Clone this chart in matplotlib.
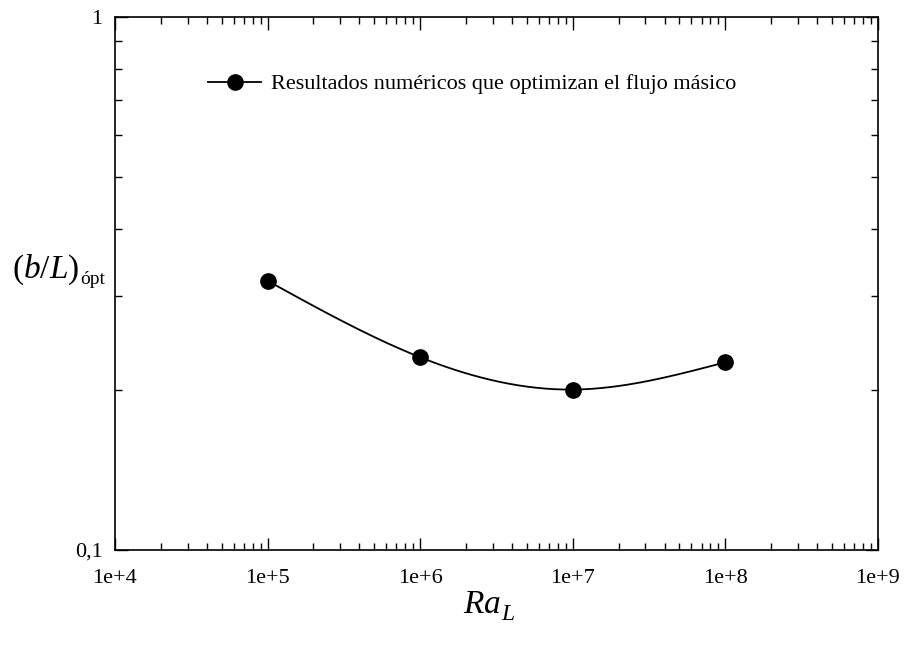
import numpy as np
import matplotlib
matplotlib.use("Agg")
import matplotlib.pyplot as plt
from matplotlib.ticker import LogLocator, FixedLocator, FixedFormatter, NullFormatter

plt.rcParams['font.family'] = ['Liberation Serif', 'DejaVu Serif']
plt.rcParams['mathtext.fontset'] = 'custom'
plt.rcParams['mathtext.rm'] = 'Liberation Serif'
plt.rcParams['mathtext.it'] = 'Liberation Serif:italic'

# resultados numéricos
ra_l = [1e5, 1e6, 1e7, 1e8]
b_l_opt = [0.32, 0.23, 0.20, 0.225]

x_ticks = [1e4, 1e5, 1e6, 1e7, 1e8, 1e9]
x_tick_labels = ['1e+4', '1e+5', '1e+6', '1e+7', '1e+8', '1e+9']
y_ticks = [0.1, 1]
y_tick_labels = ['0,1', '1']
legend_label = 'Resultados numéricos que optimizan el flujo másico'


def natural_spline(x, y, n=200):
    # spline cúbico natural (sin scipy)
    x = np.asarray(x, float)
    y = np.asarray(y, float)
    k = len(x)
    h = np.diff(x)
    A = np.zeros((k, k))
    r = np.zeros(k)
    A[0, 0] = A[-1, -1] = 1
    for i in range(1, k - 1):
        A[i, i - 1] = h[i - 1]
        A[i, i] = 2 * (h[i - 1] + h[i])
        A[i, i + 1] = h[i]
        r[i] = 6 * ((y[i + 1] - y[i]) / h[i] - (y[i] - y[i - 1]) / h[i - 1])
    m = np.linalg.solve(A, r)
    xs = np.linspace(x[0], x[-1], n)
    idx = np.clip(np.searchsorted(x, xs) - 1, 0, k - 2)
    t0 = x[idx + 1] - xs
    t1 = xs - x[idx]
    hi = h[idx]
    ys = (m[idx] * t0**3 + m[idx + 1] * t1**3) / (6 * hi) \
        + (y[idx] / hi - m[idx] * hi / 6) * t0 \
        + (y[idx + 1] / hi - m[idx + 1] * hi / 6) * t1
    return xs, ys


def label_with_sub(fig, x, y, main, sub, size, sub_size, drop, ha='left'):
    # texto principal + subíndice colocado a mano
    r = fig.canvas.get_renderer()
    t = fig.text(x, y, main, fontsize=size, ha='left', va='baseline')
    bb = t.get_window_extent(r)
    s = fig.text(0, 0, sub, fontsize=sub_size, ha='left', va='baseline')
    sb = s.get_window_extent(r)
    W, H = fig.bbox.width, fig.bbox.height
    if ha == 'center':
        total = bb.width + sb.width
        x0 = x * W - total / 2
        t.set_x(x0 / W)
        bb = t.get_window_extent(r)
    s.set_position((bb.x1 / W + 0.001, y - drop / H))
    return t, s


fig = plt.figure(figsize=(9.05, 6.49), dpi=100)
ax = fig.add_axes([0.127, 0.1525, 0.843, 0.8213])

lx, ly = natural_spline(np.log10(ra_l), np.log10(b_l_opt))
ax.plot(10**lx, 10**ly, color='black', lw=1.3, zorder=2)
ax.plot(ra_l, b_l_opt, 'o', color='black', ms=11, zorder=3)

ax.set_xscale('log')
ax.set_yscale('log')
ax.set_xlim(1e4, 1e9)
ax.set_ylim(0.1, 1)

ax.xaxis.set_major_locator(FixedLocator(x_ticks))
ax.xaxis.set_major_formatter(FixedFormatter(x_tick_labels))
ax.xaxis.set_minor_locator(LogLocator(base=10, subs=np.arange(2, 10)))
ax.xaxis.set_minor_formatter(NullFormatter())
ax.yaxis.set_major_locator(FixedLocator(y_ticks))
ax.yaxis.set_major_formatter(FixedFormatter(y_tick_labels))
ax.yaxis.set_minor_locator(LogLocator(base=10, subs=np.arange(2, 10)))
ax.yaxis.set_minor_formatter(NullFormatter())

ax.tick_params(which='both', direction='in', top=True, right=True,
               labelsize=16, width=1.0)
ax.tick_params(which='major', length=9)
ax.tick_params(which='minor', length=5)
ax.tick_params(axis='x', which='major', pad=13.5)
ax.tick_params(axis='y', which='major', pad=9)
for s in ax.spines.values():
    s.set_linewidth(1.2)

# leyenda con la línea y el marcador
h, = ax.plot([], [], '-o', color='black', ms=11, lw=1.3)
ax.legend([h], [legend_label], loc='center left',
          bbox_to_anchor=(0.122, 0.874), frameon=False, fontsize=16,
          handlelength=2.4, handletextpad=0.45, borderaxespad=0,
          borderpad=0)

label_with_sub(fig, 0.013, 0.572, r'$(\mathit{b/L})$', 'ópt', 24, 14, 6)
label_with_sub(fig, 0.54, 0.056, r'$\mathit{Ra}$', r'$\mathit{L}$', 24, 17, 7,
               ha='center')

fig.savefig('out.png', dpi=100)
